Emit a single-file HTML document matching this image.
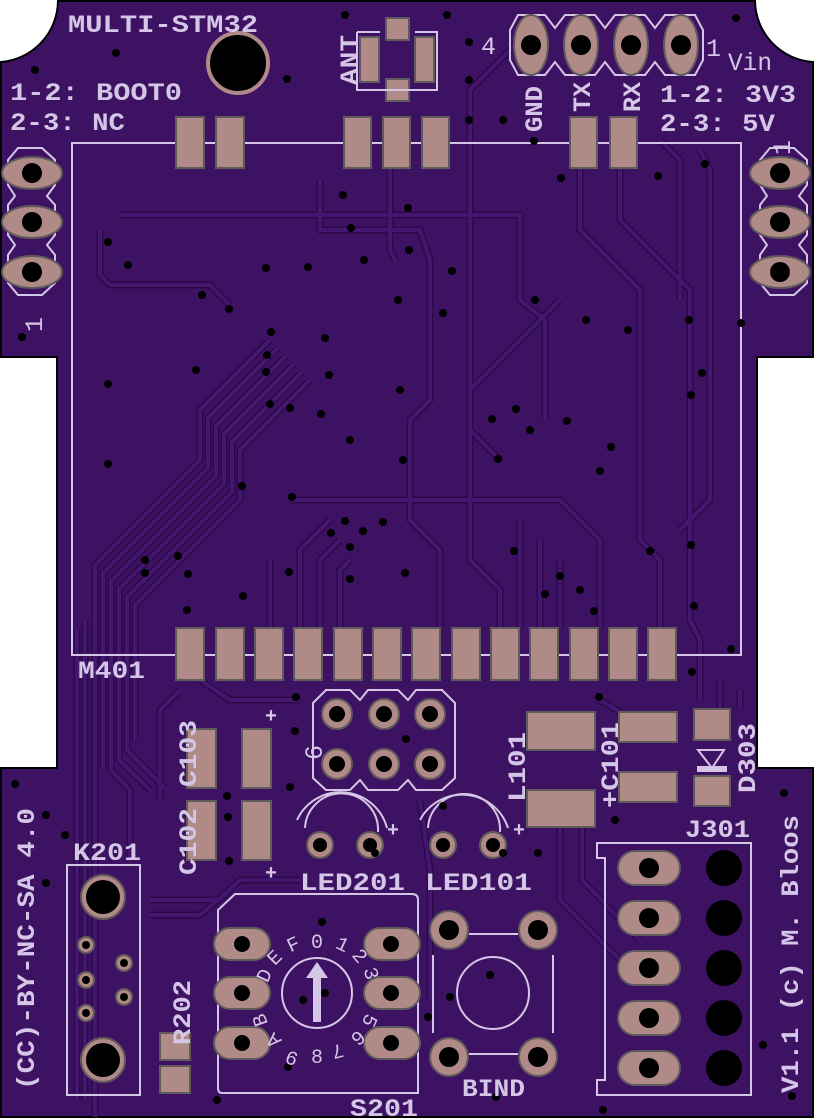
<!DOCTYPE html>
<html><head><meta charset="utf-8"><style>
html,body{margin:0;padding:0;background:#fff;}
svg{display:block}
text{font-family:"Liberation Mono","DejaVu Sans Mono",monospace;font-weight:bold;fill:#d4c6e6}
</style></head><body>
<svg width="814" height="1119" viewBox="0 0 814 1119" xmlns="http://www.w3.org/2000/svg">
<defs>
<g id="tr" fill="none" stroke-linejoin="round">
<path d="M270,340 L200,410 L200,460 L95,565 L95,768 L95,1117"/>
<path d="M278,348 L208,418 L208,468 L103,573 L103,768"/>
<path d="M286,356 L216,426 L216,476 L111,581 L111,770 L130,790 L130,860"/>
<path d="M294,364 L224,434 L224,484 L119,589 L119,760 L150,790"/>
<path d="M302,372 L232,442 L232,492 L127,597 L127,750 L165,788"/>
<path d="M310,380 L240,450 L240,500 L135,605 L135,740"/>
<path d="M85,620 L85,1100"/>
<path d="M77,630 L77,1100"/>
<path d="M100,230 L100,275 L110,285 L210,285 L230,305"/>
<path d="M120,215 L520,215 L520,300 L545,320 L545,420"/>
<path d="M320,180 L320,230 L420,230 L430,260 L430,400 L410,420 L410,520 L440,550 L440,627"/>
<path d="M390,168 L390,250 L395,260"/>
<path d="M580,168 L580,230 L640,290 L640,540 L660,560 L660,627"/>
<path d="M620,168 L620,220 L690,290 L690,620 L700,640 L700,700"/>
<path d="M660,140 L680,160 L680,300"/>
<path d="M700,150 L710,170 L710,500 L680,530"/>
<path d="M520,40 L470,90 L470,560 L500,590 L500,627"/>
<path d="M560,300 L470,390 L470,430 L500,460"/>
<path d="M290,500 L560,500 L600,540 L600,627"/>
<path d="M330,520 L300,550 L300,627"/>
<path d="M340,540 L320,560 L320,627"/>
<path d="M350,560 L340,570 L340,627"/>
<path d="M270,560 L270,627"/>
<path d="M520,520 L520,627"/>
<path d="M540,540 L540,627"/>
<path d="M560,560 L560,627"/>
<path d="M200,680 L230,700 L300,700"/>
<path d="M180,690 L160,710 L160,800"/>
<path d="M560,827 L560,900 L620,960"/>
<path d="M582,827 L582,880 L640,940"/>
<path d="M720,680 L720,708"/>
<path d="M740,690 L740,708"/>
<path d="M150,900 L218,900 L240,880 L300,880"/>
<path d="M150,915 L200,915 L230,890"/>
<path d="M420,800 L430,870 L430,1000"/>
<path d="M600,700 L620,712"/>
</g>
</defs>
<path d="M58,1 L755,1 A62,62 0 0 0 813,62 L813,357 L757,357 L757,768 L813,768 L813,1117 L1,1117 L1,768 L57,768 L57,357 L1,357 L1,62 A62,62 0 0 0 58,1 Z" fill="#3e1262" stroke="#000" stroke-width="2"/>
<use href="#tr" stroke="#2c0a4a" stroke-width="7"/>
<use href="#tr" stroke="#451670" stroke-width="4"/>

<rect x="72" y="143" width="669" height="512" fill="none" stroke="#d4c6e6" stroke-width="2"/>
<g fill="#b08a86" stroke="#5f5a5c" stroke-width="2">
<rect x="176" y="117" width="28" height="51"/><rect x="216" y="117" width="28" height="51"/>
<rect x="344" y="117" width="27" height="51"/><rect x="383" y="117" width="27" height="51"/><rect x="422" y="117" width="27" height="51"/>
<rect x="570" y="117" width="27" height="51"/><rect x="610" y="117" width="27" height="51"/>
<rect x="176" y="628" width="28" height="52"/><rect x="216" y="628" width="28" height="52"/><rect x="255" y="628" width="28" height="52"/><rect x="294" y="628" width="28" height="52"/><rect x="334" y="628" width="28" height="52"/><rect x="373" y="628" width="28" height="52"/><rect x="412" y="628" width="28" height="52"/><rect x="452" y="628" width="28" height="52"/><rect x="491" y="628" width="28" height="52"/><rect x="530" y="628" width="28" height="52"/><rect x="570" y="628" width="28" height="52"/><rect x="609" y="628" width="28" height="52"/><rect x="648" y="628" width="28" height="52"/>
<rect x="386" y="18" width="23" height="22"/><rect x="386" y="79" width="23" height="22"/>
<rect x="360" y="37" width="19" height="45"/><rect x="415" y="37" width="19" height="45"/>
<rect x="187" y="729" width="29" height="59"/><rect x="242" y="729" width="29" height="59"/>
<rect x="187" y="801" width="29" height="59"/><rect x="242" y="801" width="29" height="59"/>
<rect x="527" y="712" width="68" height="38"/><rect x="527" y="790" width="68" height="37"/>
<rect x="619" y="712" width="58" height="30"/><rect x="619" y="772" width="58" height="30"/>
<rect x="694" y="709" width="36" height="31"/><rect x="694" y="776" width="36" height="30"/>
<rect x="160" y="1033" width="30" height="27"/><rect x="160" y="1066" width="30" height="27"/>
</g>
<path d="M357,32 L357,90 L437,90 L437,32 L415,32 M380,32 L357,32" fill="none" stroke="#d4c6e6" stroke-width="2"/>
<path d="M698,750 L724,750 L712,768 Z" fill="none" stroke="#d4c6e6" stroke-width="2"/>
<rect x="697" y="766" width="30" height="6" fill="#d4c6e6"/>

<circle cx="238" cy="63" r="30" fill="#000" stroke="#b08a86" stroke-width="4"/>

<path d="M510,30 L518,15 L545,15 L555,28 L565,15 L595,15 L605,28 L615,15 L645,15 L655,28 L665,15 L695,15 L703,30 L703,60 L695,75 L665,75 L655,62 L645,75 L615,75 L605,62 L595,75 L565,75 L555,62 L545,75 L518,75 L510,60 Z" fill="none" stroke="#d4c6e6" stroke-width="2"/>
<g fill="#b08a86" stroke="#5f5a5c" stroke-width="2">
<ellipse cx="531" cy="45" rx="17" ry="30"/><ellipse cx="581" cy="45" rx="17" ry="30"/><ellipse cx="631" cy="45" rx="17" ry="30"/><ellipse cx="681" cy="45" rx="17" ry="30"/>
</g>
<g fill="#000"><circle cx="531" cy="45" r="10"/><circle cx="581" cy="45" r="10"/><circle cx="631" cy="45" r="10"/><circle cx="681" cy="45" r="10"/></g>

<g fill="none" stroke="#d4c6e6" stroke-width="2">
<path d="M8,160 L18,148 L42,148 L55,160 L55,185 L47,196 L55,205 L55,235 L47,245 L55,255 L55,283 L42,295 L18,295 L8,283 L8,255 L15,245 L8,235 L8,205 L15,196 L8,185 Z"/>
<path d="M760,160 L770,148 L794,148 L807,160 L807,185 L799,196 L807,205 L807,235 L799,245 L807,255 L807,283 L794,295 L770,295 L760,283 L760,255 L767,245 L760,235 L760,205 L767,196 L760,185 Z"/>
</g>
<g fill="#b08a86" stroke="#5f5a5c" stroke-width="2">
<ellipse cx="32" cy="173" rx="30" ry="16"/><ellipse cx="32" cy="222" rx="30" ry="16"/><ellipse cx="32" cy="272" rx="30" ry="16"/>
<ellipse cx="780" cy="173" rx="30" ry="16"/><ellipse cx="780" cy="222" rx="30" ry="16"/><ellipse cx="780" cy="272" rx="30" ry="16"/>
</g>
<g fill="#000"><circle cx="32" cy="173" r="10"/><circle cx="32" cy="222" r="10"/><circle cx="32" cy="272" r="10"/><circle cx="780" cy="173" r="10"/><circle cx="780" cy="222" r="10"/><circle cx="780" cy="272" r="10"/></g>

<path d="M313,703 L326,690 L350,690 L360,700 L368,690 L398,690 L408,700 L416,690 L442,690 L455,703 L455,778 L442,790 L416,790 L408,780 L398,790 L368,790 L360,780 L350,790 L326,790 L313,778 Z" fill="none" stroke="#d4c6e6" stroke-width="2"/>
<g fill="#b08a86" stroke="#5f5a5c" stroke-width="2">
<circle cx="337" cy="714" r="15"/><circle cx="384" cy="714" r="15"/><circle cx="430" cy="714" r="15"/>
<circle cx="337" cy="764" r="15"/><circle cx="384" cy="764" r="15"/><circle cx="430" cy="764" r="15"/>
<circle cx="320" cy="845" r="13"/><circle cx="370" cy="845" r="13"/><circle cx="443" cy="845" r="13"/><circle cx="493" cy="845" r="13"/>
<circle cx="449" cy="930" r="19"/><circle cx="538" cy="930" r="19"/><circle cx="449" cy="1057" r="19"/><circle cx="538" cy="1057" r="19"/>
<circle cx="103" cy="897" r="22"/><circle cx="103" cy="1060" r="22"/>
<circle cx="86" cy="945" r="8"/><circle cx="124" cy="963" r="8"/><circle cx="86" cy="980" r="8"/><circle cx="124" cy="997" r="8"/><circle cx="86" cy="1013" r="8"/>
</g>
<g fill="#000">
<circle cx="337" cy="714" r="8"/><circle cx="384" cy="714" r="8"/><circle cx="430" cy="714" r="8"/>
<circle cx="337" cy="764" r="8"/><circle cx="384" cy="764" r="8"/><circle cx="430" cy="764" r="8"/>
<circle cx="320" cy="845" r="7"/><circle cx="370" cy="845" r="7"/><circle cx="443" cy="845" r="7"/><circle cx="493" cy="845" r="7"/>
<circle cx="449" cy="930" r="10"/><circle cx="538" cy="930" r="10"/><circle cx="449" cy="1057" r="10"/><circle cx="538" cy="1057" r="10"/>
<circle cx="103" cy="897" r="17"/><circle cx="103" cy="1060" r="17"/>
<circle cx="86" cy="945" r="4"/><circle cx="124" cy="963" r="4"/><circle cx="86" cy="980" r="4"/><circle cx="124" cy="997" r="4"/><circle cx="86" cy="1013" r="4"/>
</g>
<g fill="none" stroke="#d4c6e6" stroke-width="2">
<path d="M297,820 A48,48 0 0 1 387,828"/><path d="M305,828 A36,36 0 0 1 378,832"/>
<path d="M420,820 A48,48 0 0 1 508,828"/><path d="M428,828 A36,36 0 0 1 500,832"/>
<rect x="67" y="865" width="73" height="230"/>
<path d="M597,843 L751,843 L751,1095 L597,1095 L597,1080 L605,1080 L605,858 L597,858 Z"/>
<path d="M235,894 L412,894 Q418,894 418,900 L418,1093 L222,1093 Q218,1093 218,1088 L218,910 Z"/>
<circle cx="317" cy="993" r="35"/>
<circle cx="493" cy="993" r="36"/>
<path d="M433,955 L433,1033 M553,955 L553,1033 M469,934 L518,934 M469,1054 L518,1054"/>
</g>
<path d="M317,962 L306,978 L313,978 L313,1022 L321,1022 L321,978 L328,978 Z" fill="#d4c6e6"/>
<g fill="#b08a86" stroke="#5f5a5c" stroke-width="2">
<rect x="618" y="851" width="62" height="34" rx="17"/><rect x="618" y="901" width="62" height="34" rx="17"/><rect x="618" y="951" width="62" height="34" rx="17"/><rect x="618" y="1001" width="62" height="34" rx="17"/><rect x="618" y="1051" width="62" height="34" rx="17"/>
<rect x="214" y="928" width="56" height="32" rx="16"/><rect x="214" y="977" width="56" height="32" rx="16"/><rect x="214" y="1027" width="56" height="32" rx="16"/>
<rect x="364" y="928" width="56" height="32" rx="16"/><rect x="364" y="977" width="56" height="32" rx="16"/><rect x="364" y="1027" width="56" height="32" rx="16"/>
</g>
<g fill="#000">
<circle cx="649" cy="868" r="10"/><circle cx="649" cy="918" r="10"/><circle cx="649" cy="968" r="10"/><circle cx="649" cy="1018" r="10"/><circle cx="649" cy="1068" r="10"/>
<circle cx="724" cy="868" r="18"/><circle cx="724" cy="918" r="18"/><circle cx="724" cy="968" r="18"/><circle cx="724" cy="1018" r="18"/><circle cx="724" cy="1068" r="18"/>
<circle cx="242" cy="944" r="8"/><circle cx="242" cy="993" r="8"/><circle cx="242" cy="1043" r="8"/>
<circle cx="391" cy="944" r="8"/><circle cx="391" cy="993" r="8"/><circle cx="391" cy="1043" r="8"/>
</g>
<g fill="#000">
<circle cx="116" cy="53" r="4"/><circle cx="35" cy="70" r="4"/><circle cx="287" cy="79" r="4"/><circle cx="345" cy="15" r="4"/><circle cx="447" cy="15" r="4"/><circle cx="469" cy="42" r="4"/><circle cx="469" cy="80" r="4"/><circle cx="469" cy="120" r="4"/><circle cx="503" cy="120" r="4"/><circle cx="534" cy="141" r="4"/><circle cx="736" cy="18" r="4"/><circle cx="705" cy="164" r="4"/><circle cx="658" cy="176" r="4"/><circle cx="561" cy="178" r="4"/><circle cx="408" cy="208" r="4"/><circle cx="351" cy="228" r="4"/><circle cx="343" cy="195" r="4"/><circle cx="409" cy="250" r="4"/><circle cx="452" cy="271" r="4"/><circle cx="364" cy="260" r="4"/><circle cx="308" cy="267" r="4"/><circle cx="266" cy="268" r="4"/><circle cx="128" cy="265" r="4"/><circle cx="108" cy="242" r="4"/><circle cx="202" cy="295" r="4"/><circle cx="229" cy="309" r="4"/><circle cx="271" cy="332" r="4"/><circle cx="325" cy="338" r="4"/><circle cx="398" cy="300" r="4"/><circle cx="443" cy="313" r="4"/><circle cx="22" cy="337" r="4"/><circle cx="108" cy="384" r="4"/><circle cx="108" cy="464" r="4"/><circle cx="196" cy="370" r="4"/><circle cx="145" cy="560" r="4"/><circle cx="145" cy="573" r="4"/><circle cx="178" cy="556" r="4"/><circle cx="188" cy="574" r="4"/><circle cx="187" cy="610" r="4"/><circle cx="267" cy="355" r="4"/><circle cx="266" cy="372" r="4"/><circle cx="270" cy="404" r="4"/><circle cx="290" cy="408" r="4"/><circle cx="321" cy="414" r="4"/><circle cx="329" cy="375" r="4"/><circle cx="350" cy="440" r="4"/><circle cx="400" cy="390" r="4"/><circle cx="492" cy="419" r="4"/><circle cx="516" cy="409" r="4"/><circle cx="530" cy="430" r="4"/><circle cx="586" cy="320" r="4"/><circle cx="628" cy="330" r="4"/><circle cx="689" cy="320" r="4"/><circle cx="702" cy="373" r="4"/><circle cx="691" cy="395" r="4"/><circle cx="741" cy="323" r="4"/><circle cx="600" cy="471" r="4"/><circle cx="535" cy="300" r="4"/><circle cx="498" cy="459" r="4"/><circle cx="403" cy="460" r="4"/><circle cx="242" cy="486" r="4"/><circle cx="292" cy="497" r="4"/><circle cx="345" cy="521" r="4"/><circle cx="331" cy="533" r="4"/><circle cx="350" cy="547" r="4"/><circle cx="363" cy="531" r="4"/><circle cx="383" cy="522" r="4"/><circle cx="405" cy="573" r="4"/><circle cx="350" cy="579" r="4"/><circle cx="289" cy="572" r="4"/><circle cx="243" cy="596" r="4"/><circle cx="514" cy="551" r="4"/><circle cx="545" cy="594" r="4"/><circle cx="560" cy="576" r="4"/><circle cx="580" cy="590" r="4"/><circle cx="594" cy="611" r="4"/><circle cx="650" cy="551" r="4"/><circle cx="691" cy="545" r="4"/><circle cx="694" cy="606" r="4"/><circle cx="731" cy="649" r="4"/><circle cx="692" cy="672" r="4"/><circle cx="599" cy="697" r="4"/><circle cx="296" cy="697" r="4"/><circle cx="295" cy="731" r="4"/><circle cx="290" cy="787" r="4"/><circle cx="227" cy="796" r="4"/><circle cx="228" cy="817" r="4"/><circle cx="229" cy="861" r="4"/><circle cx="406" cy="739" r="4"/><circle cx="443" cy="806" r="4"/><circle cx="375" cy="853" r="4"/><circle cx="503" cy="853" r="4"/><circle cx="15" cy="784" r="4"/><circle cx="46" cy="815" r="4"/><circle cx="46" cy="883" r="4"/><circle cx="65" cy="835" r="4"/><circle cx="538" cy="853" r="4"/><circle cx="615" cy="820" r="4"/><circle cx="784" cy="793" r="4"/><circle cx="763" cy="1045" r="4"/><circle cx="792" cy="1096" r="4"/><circle cx="322" cy="922" r="4"/><circle cx="303" cy="1000" r="4"/><circle cx="325" cy="993" r="4"/><circle cx="288" cy="1067" r="4"/><circle cx="217" cy="1100" r="4"/><circle cx="428" cy="1017" r="4"/><circle cx="490" cy="975" r="4"/><circle cx="450" cy="997" r="4"/><circle cx="496" cy="1097" r="4"/><circle cx="603" cy="1110" r="4"/><circle cx="611" cy="447" r="4"/><circle cx="567" cy="421" r="4"/>
</g>

<g font-size="25">
<text x="68" y="32" textLength="190" lengthAdjust="spacingAndGlyphs">MULTI-STM32</text>
<text x="10" y="100" textLength="172" lengthAdjust="spacingAndGlyphs">1-2: BOOT0</text>
<text x="10" y="130" textLength="115" lengthAdjust="spacingAndGlyphs">2-3: NC</text>
<text x="660" y="102" textLength="136" lengthAdjust="spacingAndGlyphs">1-2: 3V3</text>
<text x="660" y="131" textLength="115" lengthAdjust="spacingAndGlyphs">2-3: 5V</text>
<text x="728" y="70" textLength="44" lengthAdjust="spacingAndGlyphs" style="font-weight:normal">Vin</text>
<text x="78" y="678" textLength="67" lengthAdjust="spacingAndGlyphs">M401</text>
<text x="73" y="860" textLength="68" lengthAdjust="spacingAndGlyphs">K201</text>
<text x="685" y="837" textLength="65" lengthAdjust="spacingAndGlyphs">J301</text>
<text x="300" y="890" textLength="105" lengthAdjust="spacingAndGlyphs">LED201</text>
<text x="425" y="890" textLength="107" lengthAdjust="spacingAndGlyphs">LED101</text>
<text x="462" y="1096" textLength="63" lengthAdjust="spacingAndGlyphs">BIND</text>
<text x="350" y="1116" textLength="68" lengthAdjust="spacingAndGlyphs">S201</text>
<text x="481" y="54" style="font-weight:normal">4</text>
<text x="706" y="56" style="font-weight:normal">1</text>
<text transform="translate(357,85) rotate(-90)" textLength="50" lengthAdjust="spacingAndGlyphs">ANT</text>
<text transform="translate(542,132) rotate(-90)" textLength="46" lengthAdjust="spacingAndGlyphs">GND</text>
<text transform="translate(590,112) rotate(-90)" textLength="30" lengthAdjust="spacingAndGlyphs">TX</text>
<text transform="translate(640,112) rotate(-90)" textLength="30" lengthAdjust="spacingAndGlyphs">RX</text>
<text transform="translate(42,332) rotate(-90)" style="font-weight:normal">1</text>
<text transform="translate(790,155) rotate(-90)" style="font-weight:normal">1</text>
<text transform="translate(196,787) rotate(-90)" textLength="67" lengthAdjust="spacingAndGlyphs">C103</text>
<text transform="translate(196,875) rotate(-90)" textLength="67" lengthAdjust="spacingAndGlyphs">C102</text>
<text transform="translate(525,802) rotate(-90)" textLength="70" lengthAdjust="spacingAndGlyphs">L101</text>
<text transform="translate(618,808) rotate(-90)" textLength="86" lengthAdjust="spacingAndGlyphs">+C101</text>
<text transform="translate(755,793) rotate(-90)" textLength="70" lengthAdjust="spacingAndGlyphs">D303</text>
<text transform="translate(190,1045) rotate(-90)" textLength="65" lengthAdjust="spacingAndGlyphs">R202</text>
<text transform="translate(322,760) rotate(-90)" style="font-weight:normal">6</text>
<text transform="translate(34,1090) rotate(-90)" textLength="282" lengthAdjust="spacingAndGlyphs">(CC)-BY-NC-SA 4.0</text>
<text transform="translate(798,1093) rotate(-90)" textLength="278" lengthAdjust="spacingAndGlyphs">V1.1 (c) M. Bloos</text>
</g>
<g font-size="20">
<text x="265" y="722">+</text><text x="265" y="879">+</text>
<text x="387" y="836">+</text><text x="513" y="836">+</text>
</g>
<g font-size="20" text-anchor="middle">
<text x="317" y="948" style="font-weight:normal">0</text>
<text transform="translate(340,950) rotate(25)" style="font-weight:normal">1</text>
<text transform="translate(355,960) rotate(50)" style="font-weight:normal">2</text>
<text transform="translate(365,975) rotate(75)" style="font-weight:normal">3</text>
<text transform="translate(364,1018) rotate(115)" style="font-weight:normal">5</text>
<text transform="translate(354,1033) rotate(140)" style="font-weight:normal">6</text>
<text transform="translate(336,1045) rotate(165)" style="font-weight:normal">7</text>
<text x="317" y="1063" style="font-weight:normal">8</text>
<text transform="translate(294,1052) rotate(200)" style="font-weight:normal">9</text>
<text transform="translate(278,1036) rotate(225)" style="font-weight:normal">A</text>
<text transform="translate(266,1018) rotate(250)" style="font-weight:normal">B</text>
<text transform="translate(270,978) rotate(-65)" style="font-weight:normal">D</text>
<text transform="translate(279,962) rotate(-45)" style="font-weight:normal">E</text>
<text transform="translate(296,950) rotate(-25)" style="font-weight:normal">F</text>
</g>
</svg>
</body></html>
